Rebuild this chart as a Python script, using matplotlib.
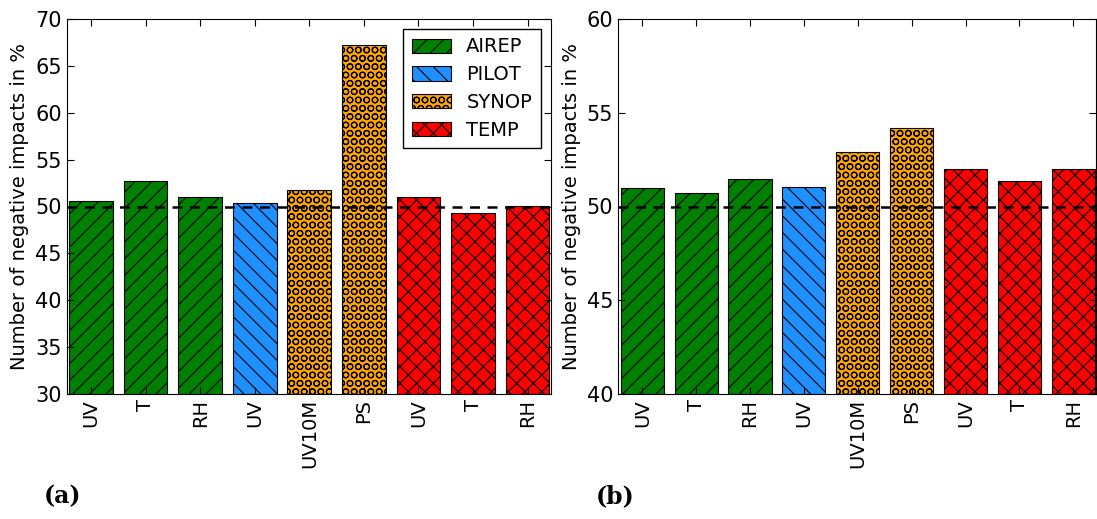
import numpy as np
import matplotlib
matplotlib.use("Agg")
import matplotlib.pyplot as plt
from matplotlib.patches import Patch

# data
labels = ['UV', 'T', 'RH', 'UV', 'UV10M', 'PS', 'UV', 'T', 'RH']
groups = ['AIREP', 'AIREP', 'AIREP', 'PILOT', 'SYNOP', 'SYNOP', 'TEMP', 'TEMP', 'TEMP']
vals_a = [50.55, 52.72, 51.05, 50.41, 51.8, 67.23, 50.98, 49.34, 50.02]
vals_b = [51.0, 50.7, 51.47, 51.06, 52.9, 54.2, 52.02, 51.36, 52.02]

group_names = ['AIREP', 'PILOT', 'SYNOP', 'TEMP']
group_colors = {'AIREP': 'green', 'PILOT': 'dodgerblue', 'SYNOP': 'orange', 'TEMP': 'red'}
group_hatch = {'AIREP': '//', 'PILOT': '\\\\', 'SYNOP': 'OO', 'TEMP': 'xx'}

plt.rcParams['hatch.linewidth'] = 0.8
plt.rcParams['hatch.color'] = 'black'

fig = plt.figure(figsize=(10.97, 5.19), dpi=100)
ax1 = fig.add_axes([66.5/1097, 1-394/519, 484/1097, 375/519])
ax2 = fig.add_axes([618/1097, 1-394/519, 478/1097, 375/519])

x = np.arange(len(labels))

def draw(ax, vals, ylim, yticks):
    for i in range(len(vals)):
        g = groups[i]
        ax.bar(x[i], vals[i] - ylim[0], bottom=ylim[0], width=0.8,
               color=group_colors[g], hatch=group_hatch[g],
               edgecolor='black', linewidth=0.8)
    ax.axhline(50, color='black', linestyle='--', linewidth=1.8, dashes=(4, 3))
    ax.set_ylim(ylim)
    ax.set_xlim(-0.45, 8.42)
    ax.set_yticks(yticks)
    ax.set_xticks(x)
    ax.set_xticklabels(labels, rotation=90, fontsize=14)
    ax.tick_params(axis='y', labelsize=15)
    ax.tick_params(direction='in', top=True, right=True, length=5)
    ax.set_ylabel('Number of negative impacts in %', fontsize=14)

draw(ax1, vals_a, (30, 70), np.arange(30, 71, 5))
draw(ax2, vals_b, (40, 60), np.arange(40, 61, 5))

handles = [Patch(facecolor=group_colors[g], hatch=group_hatch[g], edgecolor='black',
                 linewidth=0.8, label=g) for g in group_names]
ax1.legend(handles=handles, loc='upper right', fontsize=14, fancybox=False,
           edgecolor='black', framealpha=1, handlelength=2.0, handleheight=0.75,
           borderpad=0.45, labelspacing=0.45, handletextpad=0.8)

fig.text(0.04, 0.03, '(a)', fontsize=17, fontweight='bold', family='DejaVu Serif')
fig.text(0.543, 0.03, '(b)', fontsize=17, fontweight='bold', family='DejaVu Serif')

fig.savefig('out.png', dpi=100)
